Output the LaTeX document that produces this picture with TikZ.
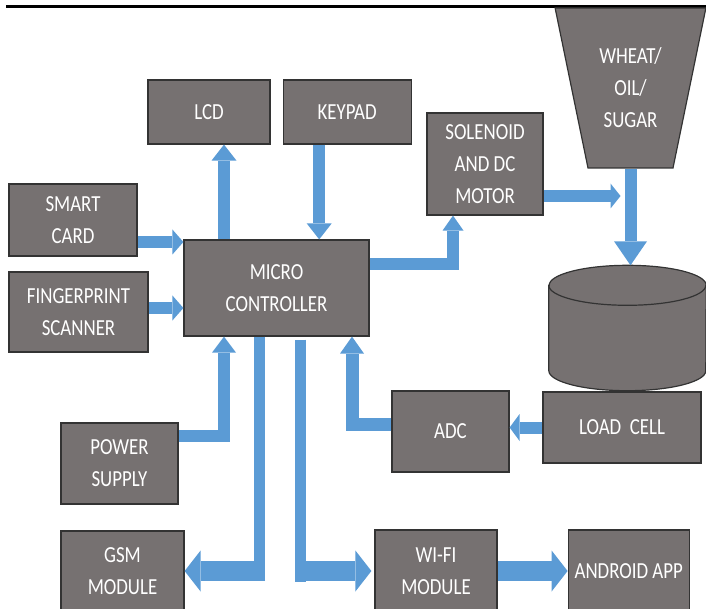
\documentclass[tikz,border=0pt]{standalone}
\usepackage{fontspec}
\setmainfont{Carlito}[FakeStretch=0.82]
\usepackage{tikz}
\usetikzlibrary{shapes.geometric, arrows.meta, positioning, calc}
\definecolor{pdGray}{HTML}{767171}
\definecolor{pdEdge}{HTML}{333333}
\definecolor{pdBlue}{HTML}{5B9BD5}
\tikzset{
  pdnode/.style={rectangle, draw=pdEdge, line width=1.2pt, fill=pdGray, text=white,
                 align=center, inner sep=2pt, font=\fontsize{23}{32}\selectfont},
  pdhead/.style 2 args={-{Triangle[length=#1, width=#2, line width=0pt]}},
  pdflow/.style={pdhead={15pt}{25pt}, line width=12pt, draw=pdBlue},
  pdbus/.style={line width=11pt, draw=pdBlue},
  pdwide/.style={pdhead={16pt}{41pt}, line width=20pt, draw=pdBlue},
}
\begin{document}
\begin{tikzpicture}[x=1pt, y=-1pt]
  \useasboundingbox (0,0) rectangle (706,609);
  \draw[line width=3.5pt] (6,6.5) -- (710,6.5);
  % blocks
  \node[pdnode, minimum width=122pt, minimum height=64pt] (lcd) at (209,112) {LCD};
  \node[pdnode, minimum width=128pt, minimum height=64pt, right=12pt of lcd] (keypad) {KEYPAD};
  \node[pdnode, minimum width=128pt, minimum height=72pt] (smart) at (73,220) {SMART\\CARD};
  \node[pdnode, minimum width=139pt, minimum height=80pt] (finger) at (78.5,312) {FINGERPRINT\\SCANNER};
  \node[pdnode, minimum width=185pt, minimum height=96pt] (mc) at (276.5,288) {MICRO\\CONTROLLER};
  \node[pdnode, minimum width=117pt, minimum height=81pt] (power) at (119.5,463.5) {POWER\\SUPPLY};
  \node[pdnode, minimum width=123pt, minimum height=80pt] (gsm) at (122.5,571) {GSM\\MODULE};
  \node[pdnode, minimum width=116pt, minimum height=102pt] (solenoid) at (485,164) {SOLENOID\\AND DC\\MOTOR};
  \node[pdnode, trapezium, shape border rotate=180, trapezium angle=73, trapezium stretches=true,
        minimum width=151pt, minimum height=160pt] (wheat) at (630.5,88) {WHEAT/\\OIL/\\SUGAR};
  \node[pdnode, minimum width=117pt, minimum height=81pt] (adc) at (450.5,431.5) {ADC};
  \node[pdnode, minimum width=158pt, minimum height=71pt] (load) at (622,427.5) {LOAD\ \ CELL};
  \node[pdnode, minimum width=122pt, minimum height=82pt] (wifi) at (436,571) {WI-FI\\MODULE};
  \node[pdnode, minimum width=121pt, minimum height=82pt, right=70pt of wifi] (android) {ANDROID APP};
  % container
  \node[minimum width=157pt, minimum height=125pt, inner sep=0pt] (tank) at (627.5,328) {};
  \draw[draw=pdEdge, line width=1.2pt, fill=pdGray] ($(tank.north west)+(0,20)$)
    -- ($(tank.south west)+(0,-20)$) arc[start angle=180, end angle=360, x radius=78.5pt, y radius=20pt]
    -- ($(tank.north east)+(0,20)$) arc[start angle=0, end angle=180, x radius=78.5pt, y radius=20pt] -- cycle;
  \draw[draw=pdEdge, line width=1.2pt] ($(tank.north west)+(0,20)$)
    arc[start angle=180, end angle=360, x radius=78.5pt, y radius=20pt];
  % arrows
  \path ([xshift=15pt]lcd.south) coordinate (lc) ([xshift=-28pt]keypad.south) coordinate (kp)
        ([xshift=-10pt]wheat.south) coordinate (wh)
        ([xshift=-17pt]mc.south) coordinate (gm) ([xshift=24pt]mc.south) coordinate (wf);
  \draw[pdflow, pdhead={11pt}{25pt}] ([yshift=-22pt]smart.east) coordinate (sc) -- (sc -| mc.west);
  \draw[pdflow, pdhead={11pt}{25pt}] ([yshift=4pt]finger.east) coordinate (fp) -- (fp -| mc.west);
  \draw[pdflow, pdhead={16pt}{25pt}] (lc |- mc.north) -- (lc);
  \draw[pdflow, pdhead={16pt}{25pt}] (kp) -- (kp |- mc.north);
  \draw[pdflow, pdhead={15pt}{21pt}] ([yshift=24pt]mc.east) -| ([xshift=-32pt]solenoid.south);
  \draw[pdflow, pdhead={10pt}{25pt}] ([yshift=-32pt]solenoid.east) coordinate (so) -- (so -| wh);
  \draw[pdflow, pdhead={24pt}{33pt}] (wheat.south) -- (wheat.south |- tank.north);
  \draw[pdflow, pdhead={10pt}{27pt}] (load.west) -- (load.west -| adc.east);
  \draw[pdflow, line width=13pt, pdhead={17pt}{24pt}] ([yshift=7pt]adc.west) -| ([xshift=75.5pt]mc.south);
  \draw[pdflow, pdhead={16pt}{24pt}] ([yshift=27.5pt]power.east) -| ([xshift=-52.5pt]mc.south);
  \draw[pdbus] (gm) -- ($(gm |- gsm.east)+(0,6)$);
  \draw[pdwide] ($(gm |- gsm.east)+(5.5,0)$) -- (gsm.east);
  \draw[pdbus] ([yshift=-3pt]wf) -- ($(wf |- wifi.west)+(0,11)$);
  \draw[pdwide, shorten >=3pt] ($(wf |- wifi.west)+(-5.5,0)$) -- (wifi.west);
  \draw[pdwide] (wifi.east) -- (android.west);
\end{tikzpicture}
\end{document}
